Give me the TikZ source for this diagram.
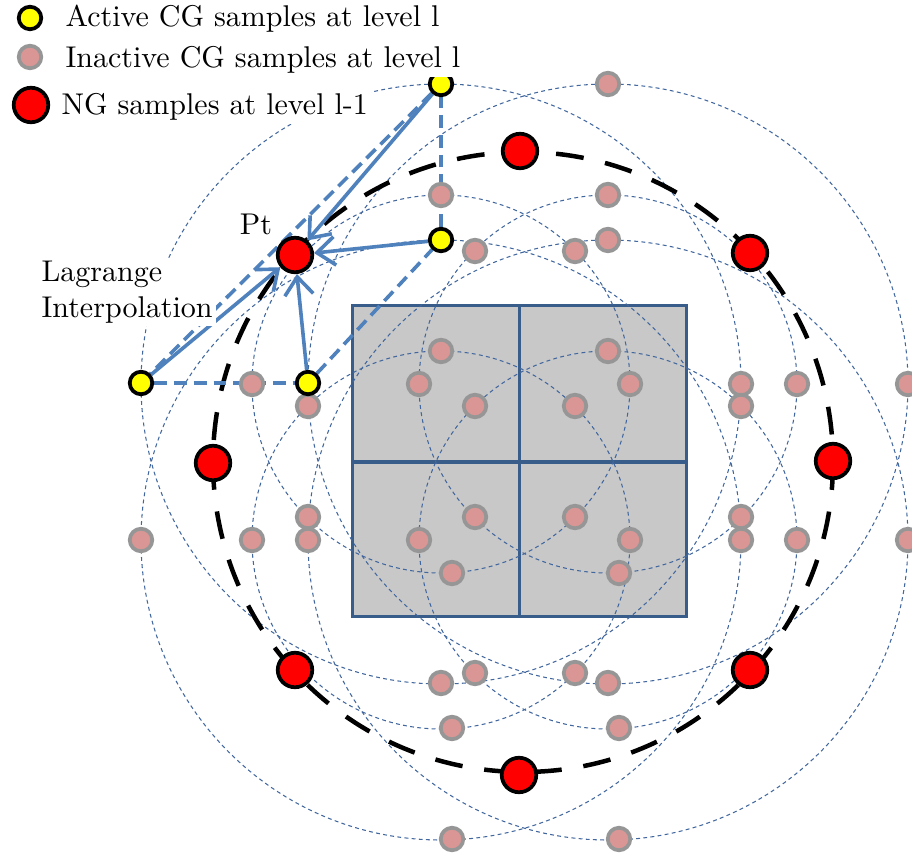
\documentclass[tikz,border=0pt]{standalone}
\usetikzlibrary{arrows.meta}
\definecolor{ngred}{HTML}{FF0000}
\definecolor{cgyellow}{HTML}{FFFF00}
\definecolor{cgpink}{HTML}{D99694}
\definecolor{cgrim}{HTML}{969696}
\definecolor{orbitblue}{HTML}{41679E}
\definecolor{linkblue}{HTML}{4F81BD}
\definecolor{cellline}{HTML}{385D8A}
\definecolor{cellfill}{HTML}{C8C8C8}
\pgfdeclarelayer{back}
\pgfdeclarelayer{links}
\pgfsetlayers{back,links,main}

\begin{document}
\begin{tikzpicture}[
  x=0.3333pt, y=-0.3333pt,
  line join=round,
  >={Straight Barb[length=6pt,width=9.5pt]},
  act/.style    = {circle, draw=black, line width=1.25pt, fill=cgyellow,
                   minimum size=7.5pt, inner sep=0pt},
  inact/.style  = {circle, draw=cgrim, line width=1.25pt, fill=cgpink,
                   minimum size=7.5pt, inner sep=0pt},
  ng/.style     = {circle, draw=black, line width=1.25pt, fill=ngred,
                   minimum size=11.5pt, inner sep=0pt},
  orbit/.style  = {draw=orbitblue, line width=0.35pt, dash pattern=on 1.3pt off 1.1pt},
  ring/.style   = {draw=black, line width=1.5pt, dash pattern=on 9.3pt off 7.3pt},
  hull/.style   = {draw=linkblue, line width=1.2pt, dash pattern=on 4.3pt off 2.3pt},
  interp/.style = {draw=linkblue, line width=1.2pt, ->},
  cell/.style   = {draw=cellline, line width=1pt},
  lbl/.style    = {inner sep=1pt, fill=white, text=black}
]

\useasboundingbox (0,0) rectangle (912,854);

% cells and circles
\begin{pgfonlayer}{back}
\fill[cellfill] (352,306) rectangle (686,616);
\draw[cell] (352,306) rectangle (686,616);
\draw[cell] (519,306) -- (519,616);
\draw[cell] (352,462) -- (686,462);
\foreach \cx/\cy in {441/384, 608/384, 441/540, 608/540} {
  \draw[orbit] (\cx,\cy) circle[radius=300];
  \draw[orbit] (\cx,\cy) circle[radius=189];
}
\draw[ring] (523,462) circle[radius=310];
\end{pgfonlayer}

% inactive CG samples
\foreach \sx/\sy [count=\k] in {608/84, 441/195, 608/195, 608/240, 475/251, 575/251,
    441/351, 608/351, 252/384, 419/384, 630/384, 741/384, 797/384, 908/384,
    308/406, 475/406, 575/406, 741/406, 308/517, 475/517, 575/517, 741/517,
    141/540, 252/540, 308/540, 419/540, 630/540, 741/540, 797/540, 908/540,
    452/573, 619/573, 475/673, 575/673, 441/683, 608/683, 452/728, 619/728,
    452/839, 619/839}
  \node[inact] (i\k) at (\sx,\sy) {};

% NG samples
\node[ng] (ng1) at (520,151) {};
\node[ng] (ng2) at (750,253) {};
\node[ng] (ng3) at (833,461) {};
\node[ng] (ng4) at (750,670) {};
\node[ng] (ng5) at (519,775) {};
\node[ng] (ng6) at (295,670) {};
\node[ng] (ng7) at (213,463) {};
\node[ng] (pt)  at (295,255) {};

% active CG samples
\node[act] (a1) at (441,84) {};
\node[act] (a2) at (441,240) {};
\node[act] (a3) at (308,383) {};
\node[act] (a4) at (141,383) {};

% interpolation
\begin{pgfonlayer}{links}
\draw[hull] (a4) -- (a3);
\draw[hull] (a3) -- (a2);
\draw[hull] (a2) -- (a1);
\draw[hull] (a1) -- (a4);
\draw[interp] (a1) -- (pt);
\draw[interp] (a2) -- (pt);
\draw[interp] (a3) -- (pt);
\draw[interp] (a4) -- (pt);
\end{pgfonlayer}

\node[lbl, anchor=base] (ptname) at (256,235) {Pt};
\node[lbl, anchor=north west, align=left] (lagr) at (38,257) {Lagrange\\Interpolation};

% legend
\node[act]   (keyact)   at (30,18) {};
\node[inact] (keyinact) at (30,57) {};
\node[ng]    (keyng)    at (31,105) {};
\node[lbl, anchor=base west] (keyacttxt)   at (62,27)  {Active CG samples at level l};
\node[lbl, anchor=base west] (keyinacttxt) at (62,68)  {Inactive CG samples at level l};
\node[lbl, anchor=base west] (keyngtxt)    at (58,115) {NG samples at level l-1};

\end{tikzpicture}
\end{document}
